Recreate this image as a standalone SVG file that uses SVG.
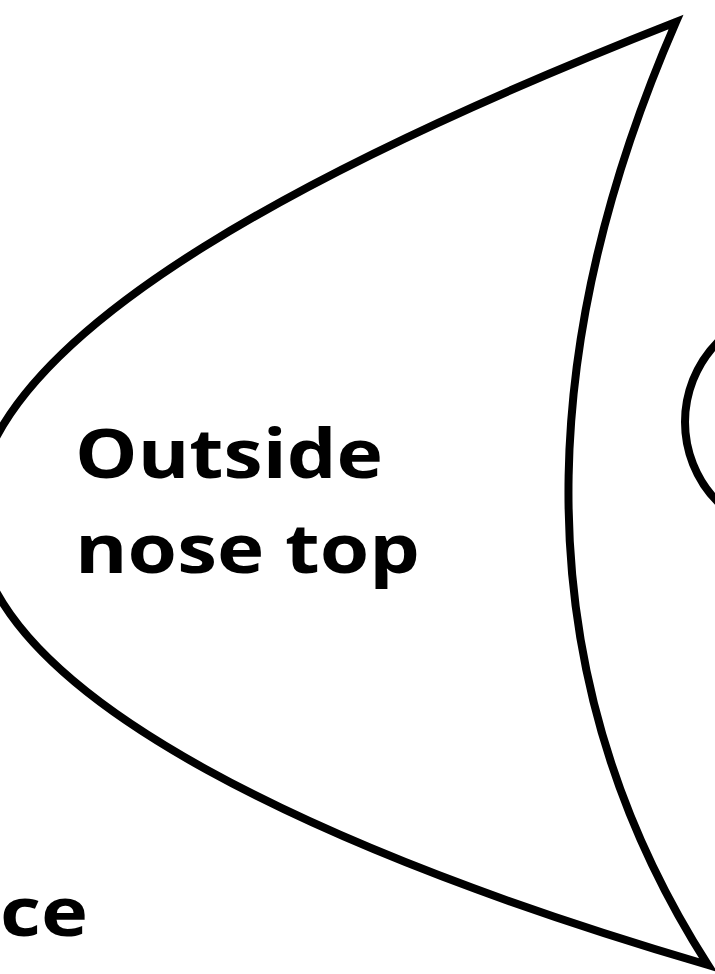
<svg xmlns="http://www.w3.org/2000/svg" width="715" height="974" viewBox="0 0 715 974">
<style>
.outline{fill:none;stroke:#000;stroke-width:8;stroke-linejoin:miter;stroke-linecap:round}
.lbl{font-family:"Open Sans","Liberation Sans",sans-serif;font-weight:700;font-size:68px;fill:#000}
</style>
<rect width="715" height="974" fill="#fff"/>
<g id="nose-top-piece">
<path class="outline" d="M676,22 C350,150 -25,330 -25,515 C -25,700 350,860 708,965 C 500,640 555,300 676,22 Z"/>
<text class="lbl" x="75" y="478" textLength="308" lengthAdjust="spacingAndGlyphs">Outside</text>
<text class="lbl" x="75" y="573" textLength="345" lengthAdjust="spacingAndGlyphs">nose top</text>
</g>
<g id="right-piece">
<circle class="outline" cx="799" cy="422" r="114"/>
</g>
<g id="left-label">
<text class="lbl" x="0" y="936" textLength="88" lengthAdjust="spacingAndGlyphs">ce</text>
</g>
</svg>
